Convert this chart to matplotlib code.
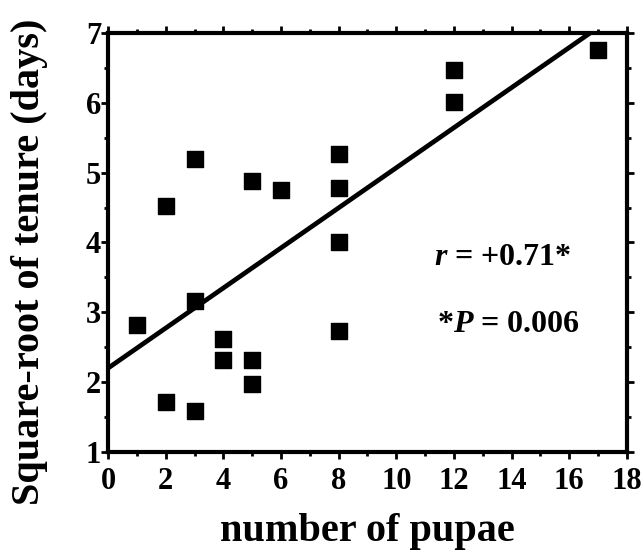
import numpy as np
import matplotlib
matplotlib.use("Agg")
import matplotlib.pyplot as plt

# data
pupae = [1, 2, 2, 3, 3, 3, 4, 4, 5, 5, 5, 6, 8, 8, 8, 8, 12, 12, 17]
sqrt_tenure = [2.82, 4.52, 1.71, 5.19, 3.16, 1.58, 2.62, 2.32, 4.88, 2.32, 1.97,
               4.75, 5.27, 4.78, 4.00, 2.73, 6.47, 6.01, 6.76]
fit_intercept = 2.2
fit_slope = 0.287

xticks = list(range(0, 19, 2))
yticks = list(range(1, 8))

plt.rcParams['font.family'] = 'Liberation Serif'
plt.rcParams['font.weight'] = 'bold'
plt.rcParams['mathtext.fontset'] = 'custom'
plt.rcParams['mathtext.it'] = 'Liberation Serif:italic:bold'
plt.rcParams['mathtext.rm'] = 'Liberation Serif:bold'

fig = plt.figure(figsize=(6.43, 5.55), dpi=100)
ax = fig.add_axes([0.168, 0.1856, 0.807, 0.755])

ax.scatter(pupae, sqrt_tenure, marker='s', s=140, color='black', zorder=3)

# regression line, ends where it meets the top of the frame
x_end = (7 - fit_intercept) / fit_slope
xs = np.array([0, x_end])
ax.plot(xs, fit_intercept + fit_slope * xs, color='black', lw=3.4, solid_capstyle='butt')

ax.set_xlim(0, 18)
ax.set_ylim(1, 7)
ax.set_xticks(xticks)
ax.set_yticks(yticks)
ax.set_xticks(np.arange(0, 18.1, 1), minor=True)
ax.set_yticks(np.arange(1, 7.01, 0.5), minor=True)

for s in ax.spines.values():
    s.set_linewidth(3)

ax.tick_params(which='both', direction='out', top=True, right=True,
               labeltop=False, labelright=False, width=2)
ax.tick_params(which='major', length=5, labelsize=22)
ax.tick_params(which='minor', length=3)
ax.tick_params(axis='y', which='major', pad=0)
ax.tick_params(axis='x', which='major', pad=6)

ax.set_xlabel('number of pupae', fontsize=29, fontweight='bold', labelpad=12)
ax.set_ylabel('Square-root of tenure (days)', fontsize=29, fontweight='bold')
ax.yaxis.set_label_coords(-0.115, 0.455)

ax.text(11.3, 3.79, r'$r$ = +0.71*', fontsize=23, fontweight='bold', va='center')
ax.text(11.42, 2.82, r'*$P$ = 0.006', fontsize=23, fontweight='bold', va='center')

fig.savefig('out.png', dpi=100)
